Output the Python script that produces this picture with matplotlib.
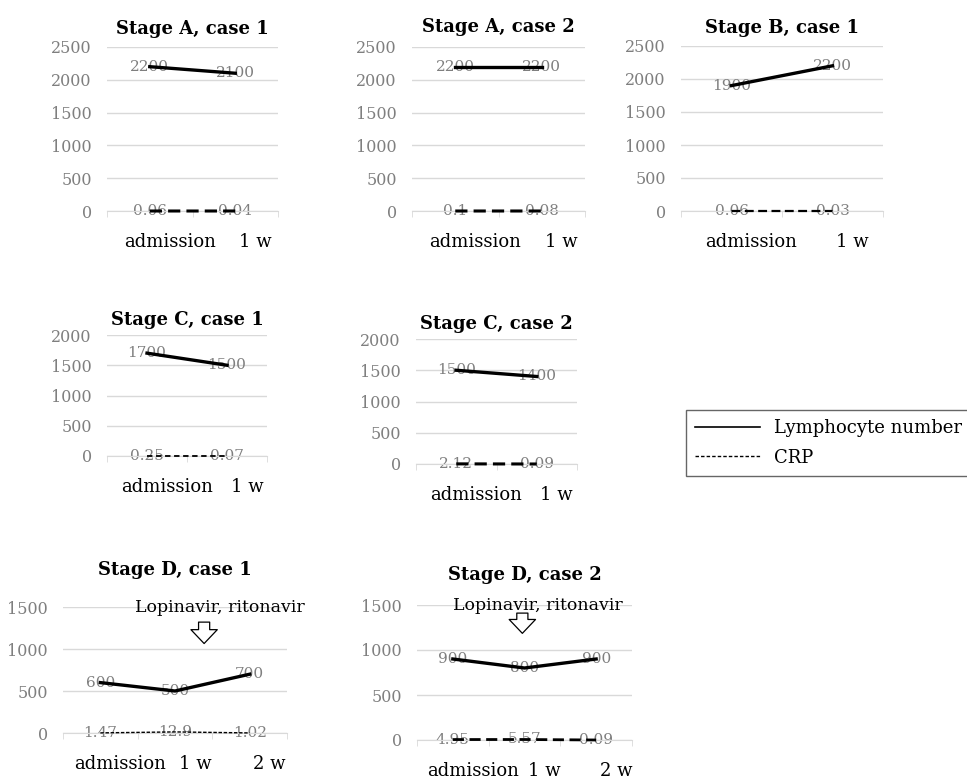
#!/usr/bin/env python
# coding: utf-8

import matplotlib
matplotlib.use('Agg')
import matplotlib.pyplot as plt
import matplotlib.transforms as mtransforms
from matplotlib.lines import Line2D

plt.rcParams['font.family'] = ['DejaVu Serif']

# data per panel
titles = ['Stage A, case 1', 'Stage A, case 2', 'Stage B, case 1',
          'Stage C, case 1', 'Stage C, case 2',
          'Stage D, case 1', 'Stage D, case 2']
timepoints_short = ['admission', '1 w']
timepoints_long = ['admission', '1 w', '2 w']

lymph_a1 = [2200, 2100]
lymph_a2 = [2200, 2200]
lymph_b1 = [1900, 2200]
lymph_c1 = [1700, 1500]
lymph_c2 = [1500, 1400]
lymph_d1 = [600, 500, 700]
lymph_d2 = [900, 800, 900]

crp_a1 = [0.06, 0.04]
crp_a2 = [0.1, 0.08]
crp_b1 = [0.06, 0.03]
crp_c1 = [0.25, 0.07]
crp_c2 = [2.12, 0.09]
crp_d1 = [1.47, 12.9, 1.02]
crp_d2 = [4.95, 5.57, 0.09]

crp_labels_a1 = ['0.06', '0.04']
crp_labels_a2 = ['0.1', '0.08']
crp_labels_b1 = ['0.06', '0.03']
crp_labels_c1 = ['0.25', '0.07']
crp_labels_c2 = ['2.12', '0.09']
crp_labels_d1 = ['1.47', '12.9', '1.02']
crp_labels_d2 = ['4.95', '5.57', '0.09']

y_max = [2500, 2500, 2500, 2000, 2000, 1500, 1500]

# panel boxes in pixels: x left, x right, y of top gridline, y of zero line
W, H = 967, 780
boxes = [(107, 278, 47, 211), (412, 585, 47, 211), (681, 883, 46, 211),
         (107, 267, 335, 456), (416, 577, 339, 464),
         (63, 287, 607, 733), (417, 632, 605, 740)]
title_pad = [9, 11, 9, 7, 7, 23, 18]

panels = [
    (lymph_a1, crp_a1, crp_labels_a1, timepoints_short),
    (lymph_a2, crp_a2, crp_labels_a2, timepoints_short),
    (lymph_b1, crp_b1, crp_labels_b1, timepoints_short),
    (lymph_c1, crp_c1, crp_labels_c1, timepoints_short),
    (lymph_c2, crp_c2, crp_labels_c2, timepoints_short),
    (lymph_d1, crp_d1, crp_labels_d1, timepoints_long),
    (lymph_d2, crp_d2, crp_labels_d2, timepoints_long),
]
crp_dash = [(0, (4, 2)), (0, (4, 2)), (0, (4, 2)), (0, (3, 2)),
            (0, (4, 2)), (0, (2.5, 1.2)), (0, (4, 2))]
crp_lw = [2.2, 2.2, 1.6, 1.3, 2.2, 1.0, 2.0]

grid_col = '#d9d9d9'
lab_col = '#7f7f7f'

fig = plt.figure(figsize=(W / 100, H / 100), dpi=100)

axes = []
for i, (lymph, crp, crp_lab, cats) in enumerate(panels):
    x0, x1, yt, yb = boxes[i]
    ax = fig.add_axes([x0 / W, 1 - yb / H, (x1 - x0) / W, (yb - yt) / H])
    axes.append(ax)
    xs = list(range(len(cats)))
    ax.plot(xs, lymph, color='black', lw=2.4, clip_on=False, zorder=3)
    ax.plot(xs, crp, color='black', lw=crp_lw[i], ls=crp_dash[i],
            clip_on=False, zorder=3)
    for x, v in zip(xs, lymph):
        ax.text(x, v, str(v), ha='center', va='center', fontsize=11,
                color=lab_col, zorder=2)
    for x, v, s in zip(xs, crp, crp_lab):
        ax.text(x, v, s, ha='center', va='center', fontsize=11,
                color=lab_col, zorder=2)
    ax.set_xlim(-0.5, len(cats) - 0.5)
    ax.set_ylim(0, y_max[i])
    ax.set_yticks(range(0, y_max[i] + 1, 500))
    ax.yaxis.grid(True, color=grid_col, lw=1)
    ax.set_axisbelow(True)
    for sp in ['top', 'right', 'left']:
        ax.spines[sp].set_visible(False)
    ax.spines['bottom'].set_color(grid_col)
    ax.tick_params(axis='y', length=0, pad=11, labelsize=11.5, labelcolor=lab_col)
    ax.set_xticks(xs)
    ax.set_xticklabels(cats, fontsize=13)
    ax.set_xticks([x - 0.5 for x in range(len(cats) + 1)], minor=True)
    ax.tick_params(axis='x', which='major', length=0, pad=16)
    ax.tick_params(axis='x', which='minor', length=4, color=grid_col)
    shift = mtransforms.ScaledTranslation(0.2, 0, fig.dpi_scale_trans)
    for lab in ax.get_xticklabels():
        lab.set_transform(lab.get_transform() + shift)
    ax.set_title(titles[i], fontsize=13, fontweight='bold', pad=title_pad[i])

# treatment annotation in stage D panels (hollow arrow)
for ax, tx, arr_x, arr_top, arr_bot in [(axes[5], 0.70, 0.63, 0.88, 0.71),
                                         (axes[6], 0.56, 0.49, 0.94, 0.79)]:
    ax.text(tx, 1.0, 'Lopinavir, ritonavir', transform=ax.transAxes,
            ha='center', va='center', fontsize=12.5)
    ax.annotate('', xy=(arr_x, arr_bot), xytext=(arr_x, arr_top),
                xycoords='axes fraction', textcoords='axes fraction',
                arrowprops=dict(arrowstyle='simple,head_width=0.95,head_length=0.5,tail_width=0.4',
                                fc='white', ec='black', lw=0.9,
                                shrinkA=0, shrinkB=0, mutation_scale=20))

handles = [Line2D([], [], color='black', lw=1.2),
           Line2D([], [], color='black', lw=1.0, ls=(0, (2.5, 1.5)))]
leg = fig.legend(handles, ['Lymphocyte number', 'CRP'], loc='upper left',
                 bbox_to_anchor=(686 / W, 1 - 410 / H), fontsize=13,
                 frameon=True, fancybox=False, edgecolor='#404040',
                 handlelength=3.6, handletextpad=0.8, labelspacing=0.65,
                 borderpad=0.5, borderaxespad=0)
leg.get_frame().set_linewidth(1.0)

plt.savefig('out.png', dpi=100)
